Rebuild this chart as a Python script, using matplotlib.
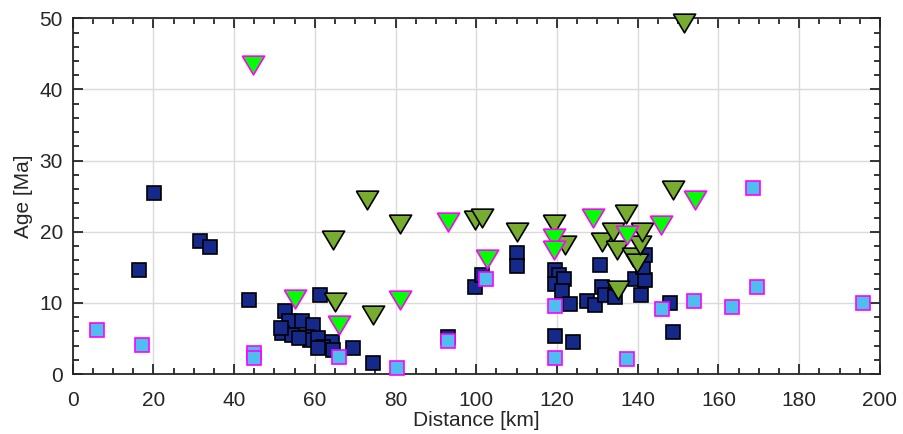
import matplotlib
matplotlib.use("Agg")
import matplotlib.pyplot as plt
from matplotlib.ticker import MultipleLocator

plt.rcParams['font.family'] = ['Liberation Sans', 'DejaVu Sans']

# dark blue squares
dark_x = [16.5, 20.1, 31.6, 34.1, 43.8,
          52.6, 53.7, 51.8, 54.3, 56.7, 59.6, 58.0, 58.8, 60.9, 64.2, 62.1, 64.6,
          69.5, 61.3, 56.0, 51.5, 60.9, 74.5,
          93.0, 99.6, 101.3, 110.0, 110.0,
          119.5, 120.6, 119.5, 121.6, 121.2, 123.2, 119.5, 123.9,
          127.4, 129.4, 130.7, 131.1, 131.9, 134.4,
          139.3, 141.8, 140.9, 141.4, 141.8,
          147.9, 148.8]
dark_y = [14.6, 25.4, 18.7, 17.9, 10.4,
          8.8, 7.4, 5.7, 5.5, 7.4, 6.9, 5.2, 4.8, 5.0, 4.5, 3.8, 3.4,
          3.6, 11.1, 5.0, 6.5, 3.6, 1.6,
          5.2, 12.3, 13.9, 17.0, 15.2,
          14.6, 13.9, 12.7, 13.4, 11.6, 9.9, 5.3, 4.5,
          10.2, 9.7, 15.3, 12.3, 11.1, 10.8,
          13.4, 13.2, 11.1, 15.1, 16.8,
          10.0, 5.9]

# light blue squares, magenta edge
light_x = [6.1, 17.1, 44.8, 44.8, 66.0, 80.3, 93.0, 102.5, 119.5, 119.5,
           137.3, 145.9, 154.0, 163.4, 168.5, 169.6, 195.9]
light_y = [6.2, 4.1, 2.9, 2.2, 2.4, 0.8, 4.7, 13.4, 9.5, 2.3,
           2.1, 9.2, 10.3, 9.4, 26.2, 12.2, 10.0]

# olive triangles
olive_x = [64.6, 65.0, 72.8, 74.5, 81.1, 99.7, 101.3, 110.0, 119.3, 122.0,
           131.1, 133.9, 134.8, 135.2, 137.1, 138.9, 139.7, 140.5, 141.0,
           148.8, 151.5]
olive_y = [18.9, 10.1, 24.5, 8.3, 21.1, 21.6, 21.9, 20.0, 21.1, 18.2,
           18.6, 20.0, 17.4, 11.8, 22.5, 16.5, 15.6, 18.1, 20.0,
           25.9, 49.4]

# bright green triangles, magenta edge
green_x = [44.6, 55.0, 65.9, 81.0, 92.9, 102.7, 119.3, 119.3, 129.0, 137.3,
           145.7, 154.2]
green_y = [43.4, 10.6, 6.9, 10.4, 21.4, 16.1, 19.1, 17.4, 21.9, 19.5,
           20.9, 24.5]

tri = [(-1, 0.84), (1, 0.84), (0, -0.84), (-1, 0.84)]

fig = plt.figure(figsize=(9.04, 4.34), dpi=100)
ax = fig.add_axes([0.0804, 0.1382, 0.893, 0.8196])

ax.plot(dark_x, dark_y, ls='none', marker='s', ms=10.5, mfc='#15298A',
        mec='black', mew=1.2, clip_on=False, zorder=3)
ax.plot(light_x, light_y, ls='none', marker='s', ms=10.5, mfc='#4DBEEE',
        mec='#FF00FF', mew=1.2, clip_on=False, zorder=4)
ax.plot(olive_x, olive_y, ls='none', marker=tri, ms=16, mfc='#77AC30',
        mec='black', mew=1.2, clip_on=False, zorder=5)
ax.plot(green_x, green_y, ls='none', marker=tri, ms=16, mfc='#00FF00',
        mec='#FF00FF', mew=1.2, clip_on=False, zorder=6)

ax.set_xlim(0, 200)
ax.set_ylim(0, 50)
ax.xaxis.set_major_locator(MultipleLocator(20))
ax.xaxis.set_minor_locator(MultipleLocator(5))
ax.yaxis.set_major_locator(MultipleLocator(10))
ax.yaxis.set_minor_locator(MultipleLocator(2))
ax.grid(True, which='major', color='#dadada', lw=1)
ax.set_axisbelow(True)

ax.tick_params(which='both', direction='in', top=True, right=True,
               colors='#262626', labelsize=15, width=1.3)
ax.tick_params(which='major', length=7)
ax.tick_params(which='minor', length=4.5)
ax.tick_params(axis='x', which='major', pad=12)
ax.tick_params(axis='y', which='major', pad=7)
for s in ax.spines.values():
    s.set_color('#262626')
    s.set_linewidth(1.3)

ax.set_xlabel('Distance [km]', fontsize=15, color='#262626', labelpad=1)
ax.set_ylabel('Age [Ma]', fontsize=15, color='#262626', labelpad=5)

fig.savefig('out.png', dpi=100)
